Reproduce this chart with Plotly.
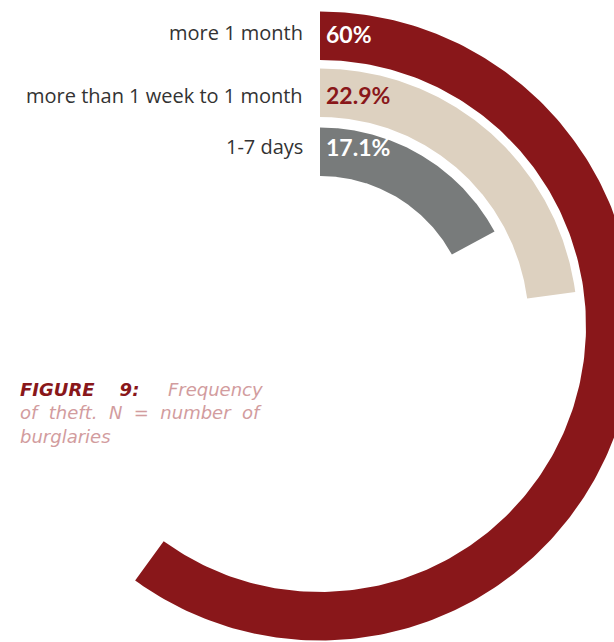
import numpy as np
import plotly.graph_objects as go

# Frequency of theft, share of burglaries (%)
categories = ["more 1 month", "more than 1 week to 1 month", "1-7 days"]
values = [60, 22.9, 17.1]
ring_colors = ["#89171a", "#ddd1c0", "#787b7b"]
label_colors = ["#ffffff", "#89171a", "#ffffff"]

# ring geometry (axis units are pixels: x to the right, y downwards)
W, H = 614, 642
cx, cy = 320, 326
ring_inner = [266, 209, 150]
ring_thick = 48.5

# text rows beside the arc starts (px from top)
name_rows = [32, 95, 146]
value_rows = [34, 95, 147]


def arc_path(value, r_in, r_out, n=240):
    """Annular sector starting at 12 o'clock and running clockwise for value % of a turn."""
    a = np.radians(np.linspace(0, value * 3.6, n))
    xo, yo = cx + r_out * np.sin(a), cy - r_out * np.cos(a)
    xi, yi = cx + r_in * np.sin(a[::-1]), cy - r_in * np.cos(a[::-1])
    return np.concatenate([xo, xi, xo[:1]]), np.concatenate([yo, yi, yo[:1]])


fig = go.Figure()

for cat, v, r_in, col in zip(categories, values, ring_inner, ring_colors):
    xs, ys = arc_path(v, r_in, r_in + ring_thick)
    fig.add_trace(go.Scatter(
        x=xs, y=ys, mode="lines", fill="toself",
        fillcolor=col, line=dict(width=0, color=col),
        name=cat, hoverinfo="name", showlegend=False,
    ))

annotations = []
for cat, v, lc, yn, yv in zip(categories, values, label_colors, name_rows, value_rows):
    # category name, to the left of the arc start
    annotations.append(dict(
        x=cx - 15, y=yn, xref="x", yref="y", xanchor="right", yanchor="middle",
        text=cat, showarrow=False,
        font=dict(family="Open Sans", size=20, color="#333333"),
    ))
    # value, on the arc start
    annotations.append(dict(
        x=cx + 4, y=yv, xref="x", yref="y", xanchor="left", yanchor="middle",
        text=f"{v:g}%", showarrow=False,
        font=dict(family="Lato", size=23, color=lc, weight=700),
    ))

# caption
annotations.append(dict(
    xref="paper", yref="paper",
    x=18 / W, y=1 - 377 / H,
    xanchor="left", yanchor="top", align="left",
    showarrow=False,
    font=dict(family="DejaVu Sans", size=18, color="#d29c9e", style="italic", weight=200),
    text=("<b><span style='color:#89171a'>FIGURE&nbsp;&nbsp;&nbsp;&nbsp;9:</span></b>"
          "&nbsp;&nbsp;&nbsp;&nbsp;&nbsp;Frequency<br>"
          "of&nbsp;&nbsp;theft.&nbsp;&nbsp;N&nbsp;&nbsp;=&nbsp;&nbsp;number&nbsp;&nbsp;of<br>"
          "burglaries"),
))

fig.update_layout(
    width=W,
    height=H,
    margin=dict(l=0, r=0, t=0, b=0),
    paper_bgcolor="white",
    plot_bgcolor="white",
    xaxis=dict(range=[0, W], visible=False, fixedrange=True),
    yaxis=dict(range=[H, 0], visible=False, fixedrange=True,
               scaleanchor="x", scaleratio=1),
    annotations=annotations,
)

fig.write_html("out.html")
